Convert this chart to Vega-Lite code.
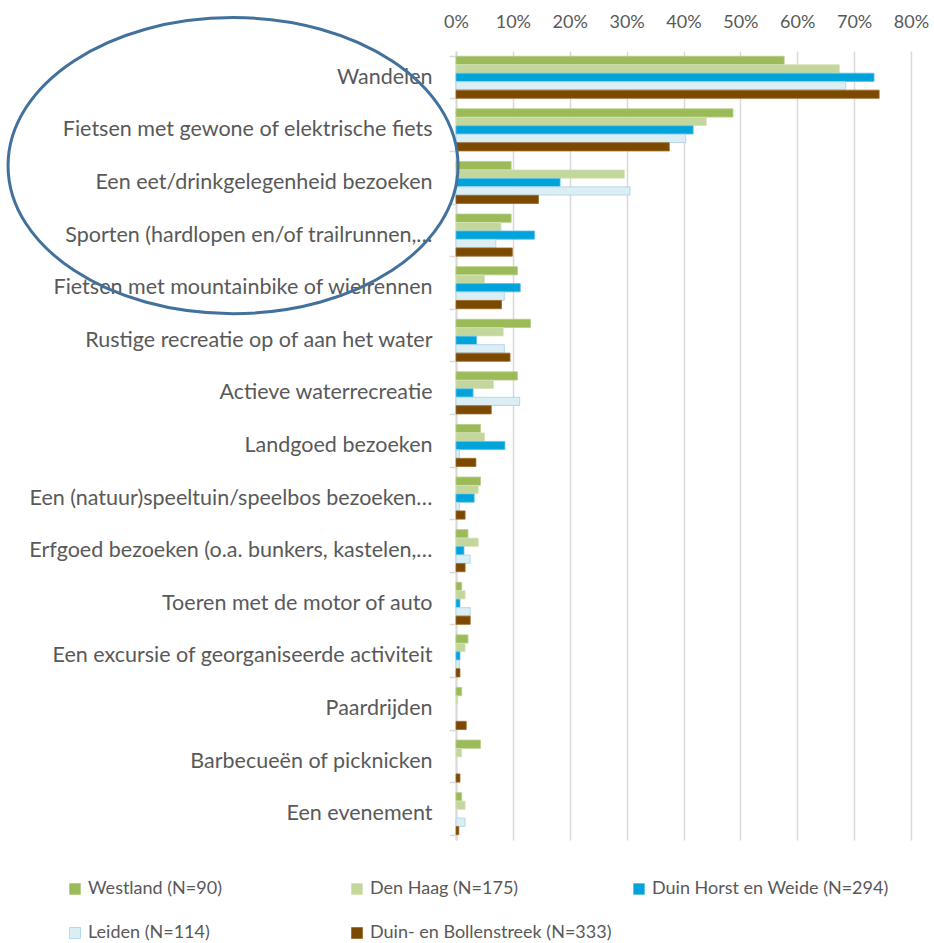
{
  "$schema": "https://vega.github.io/schema/vega-lite/v6.json",
  "width": 455,
  "height": 789,
  "autosize": {"type": "none"},
  "padding": {"left": 456, "top": 51, "right": 23, "bottom": 103},
  "background": "white",
  "config": {
    "font": "Lato",
    "view": {"stroke": null},
    "axis": {"labelColor": "#595959", "labelFont": "Lato", "labelFontWeight": 400}
  },
  "datasets": {
    "bars": [
      {"cat": "Wandelen", "reg": "Westland (N=90)", "v": 0.577},
      {"cat": "Wandelen", "reg": "Den Haag (N=175)", "v": 0.674},
      {"cat": "Wandelen", "reg": "Duin Horst en Weide (N=294)", "v": 0.735},
      {"cat": "Wandelen", "reg": "Leiden (N=114)", "v": 0.685},
      {"cat": "Wandelen", "reg": "Duin- en Bollenstreek (N=333)", "v": 0.744},
      {"cat": "Fietsen met gewone of elektrische fiets", "reg": "Westland (N=90)", "v": 0.487},
      {"cat": "Fietsen met gewone of elektrische fiets", "reg": "Den Haag (N=175)", "v": 0.44},
      {"cat": "Fietsen met gewone of elektrische fiets", "reg": "Duin Horst en Weide (N=294)", "v": 0.417},
      {"cat": "Fietsen met gewone of elektrische fiets", "reg": "Leiden (N=114)", "v": 0.404},
      {"cat": "Fietsen met gewone of elektrische fiets", "reg": "Duin- en Bollenstreek (N=333)", "v": 0.375},
      {"cat": "Een eet/drinkgelegenheid bezoeken", "reg": "Westland (N=90)", "v": 0.097},
      {"cat": "Een eet/drinkgelegenheid bezoeken", "reg": "Den Haag (N=175)", "v": 0.296},
      {"cat": "Een eet/drinkgelegenheid bezoeken", "reg": "Duin Horst en Weide (N=294)", "v": 0.183},
      {"cat": "Een eet/drinkgelegenheid bezoeken", "reg": "Leiden (N=114)", "v": 0.306},
      {"cat": "Een eet/drinkgelegenheid bezoeken", "reg": "Duin- en Bollenstreek (N=333)", "v": 0.145},
      {"cat": "Sporten (hardlopen en/of trailrunnen,…", "reg": "Westland (N=90)", "v": 0.097},
      {"cat": "Sporten (hardlopen en/of trailrunnen,…", "reg": "Den Haag (N=175)", "v": 0.079},
      {"cat": "Sporten (hardlopen en/of trailrunnen,…", "reg": "Duin Horst en Weide (N=294)", "v": 0.138},
      {"cat": "Sporten (hardlopen en/of trailrunnen,…", "reg": "Leiden (N=114)", "v": 0.07},
      {"cat": "Sporten (hardlopen en/of trailrunnen,…", "reg": "Duin- en Bollenstreek (N=333)", "v": 0.099},
      {"cat": "Fietsen met mountainbike of wielrennen", "reg": "Westland (N=90)", "v": 0.108},
      {"cat": "Fietsen met mountainbike of wielrennen", "reg": "Den Haag (N=175)", "v": 0.05},
      {"cat": "Fietsen met mountainbike of wielrennen", "reg": "Duin Horst en Weide (N=294)", "v": 0.113},
      {"cat": "Fietsen met mountainbike of wielrennen", "reg": "Leiden (N=114)", "v": 0.085},
      {"cat": "Fietsen met mountainbike of wielrennen", "reg": "Duin- en Bollenstreek (N=333)", "v": 0.08},
      {"cat": "Rustige recreatie op of aan het water", "reg": "Westland (N=90)", "v": 0.131},
      {"cat": "Rustige recreatie op of aan het water", "reg": "Den Haag (N=175)", "v": 0.083},
      {"cat": "Rustige recreatie op of aan het water", "reg": "Duin Horst en Weide (N=294)", "v": 0.036},
      {"cat": "Rustige recreatie op of aan het water", "reg": "Leiden (N=114)", "v": 0.085},
      {"cat": "Rustige recreatie op of aan het water", "reg": "Duin- en Bollenstreek (N=333)", "v": 0.095},
      {"cat": "Actieve waterrecreatie", "reg": "Westland (N=90)", "v": 0.108},
      {"cat": "Actieve waterrecreatie", "reg": "Den Haag (N=175)", "v": 0.066},
      {"cat": "Actieve waterrecreatie", "reg": "Duin Horst en Weide (N=294)", "v": 0.03},
      {"cat": "Actieve waterrecreatie", "reg": "Leiden (N=114)", "v": 0.112},
      {"cat": "Actieve waterrecreatie", "reg": "Duin- en Bollenstreek (N=333)", "v": 0.062},
      {"cat": "Landgoed bezoeken", "reg": "Westland (N=90)", "v": 0.043},
      {"cat": "Landgoed bezoeken", "reg": "Den Haag (N=175)", "v": 0.05},
      {"cat": "Landgoed bezoeken", "reg": "Duin Horst en Weide (N=294)", "v": 0.086},
      {"cat": "Landgoed bezoeken", "reg": "Leiden (N=114)", "v": 0.006},
      {"cat": "Landgoed bezoeken", "reg": "Duin- en Bollenstreek (N=333)", "v": 0.035},
      {"cat": "Een (natuur)speeltuin/speelbos bezoeken…", "reg": "Westland (N=90)", "v": 0.043},
      {"cat": "Een (natuur)speeltuin/speelbos bezoeken…", "reg": "Den Haag (N=175)", "v": 0.039},
      {"cat": "Een (natuur)speeltuin/speelbos bezoeken…", "reg": "Duin Horst en Weide (N=294)", "v": 0.032},
      {"cat": "Een (natuur)speeltuin/speelbos bezoeken…", "reg": "Leiden (N=114)", "v": 0.006},
      {"cat": "Een (natuur)speeltuin/speelbos bezoeken…", "reg": "Duin- en Bollenstreek (N=333)", "v": 0.016},
      {"cat": "Erfgoed bezoeken (o.a. bunkers, kastelen,…", "reg": "Westland (N=90)", "v": 0.021},
      {"cat": "Erfgoed bezoeken (o.a. bunkers, kastelen,…", "reg": "Den Haag (N=175)", "v": 0.039},
      {"cat": "Erfgoed bezoeken (o.a. bunkers, kastelen,…", "reg": "Duin Horst en Weide (N=294)", "v": 0.014},
      {"cat": "Erfgoed bezoeken (o.a. bunkers, kastelen,…", "reg": "Leiden (N=114)", "v": 0.025},
      {"cat": "Erfgoed bezoeken (o.a. bunkers, kastelen,…", "reg": "Duin- en Bollenstreek (N=333)", "v": 0.016},
      {"cat": "Toeren met de motor of auto", "reg": "Westland (N=90)", "v": 0.01},
      {"cat": "Toeren met de motor of auto", "reg": "Den Haag (N=175)", "v": 0.016},
      {"cat": "Toeren met de motor of auto", "reg": "Duin Horst en Weide (N=294)", "v": 0.007},
      {"cat": "Toeren met de motor of auto", "reg": "Leiden (N=114)", "v": 0.025},
      {"cat": "Toeren met de motor of auto", "reg": "Duin- en Bollenstreek (N=333)", "v": 0.025},
      {"cat": "Een excursie of georganiseerde activiteit", "reg": "Westland (N=90)", "v": 0.021},
      {"cat": "Een excursie of georganiseerde activiteit", "reg": "Den Haag (N=175)", "v": 0.016},
      {"cat": "Een excursie of georganiseerde activiteit", "reg": "Duin Horst en Weide (N=294)", "v": 0.007},
      {"cat": "Een excursie of georganiseerde activiteit", "reg": "Leiden (N=114)", "v": 0.006},
      {"cat": "Een excursie of georganiseerde activiteit", "reg": "Duin- en Bollenstreek (N=333)", "v": 0.007},
      {"cat": "Paardrijden", "reg": "Westland (N=90)", "v": 0.01},
      {"cat": "Paardrijden", "reg": "Den Haag (N=175)", "v": 0.003},
      {"cat": "Paardrijden", "reg": "Duin Horst en Weide (N=294)", "v": 0},
      {"cat": "Paardrijden", "reg": "Leiden (N=114)", "v": 0},
      {"cat": "Paardrijden", "reg": "Duin- en Bollenstreek (N=333)", "v": 0.018},
      {"cat": "Barbecueën of picknicken", "reg": "Westland (N=90)", "v": 0.043},
      {"cat": "Barbecueën of picknicken", "reg": "Den Haag (N=175)", "v": 0.01},
      {"cat": "Barbecueën of picknicken", "reg": "Duin Horst en Weide (N=294)", "v": 0},
      {"cat": "Barbecueën of picknicken", "reg": "Leiden (N=114)", "v": 0},
      {"cat": "Barbecueën of picknicken", "reg": "Duin- en Bollenstreek (N=333)", "v": 0.007},
      {"cat": "Een evenement", "reg": "Westland (N=90)", "v": 0.01},
      {"cat": "Een evenement", "reg": "Den Haag (N=175)", "v": 0.016},
      {"cat": "Een evenement", "reg": "Duin Horst en Weide (N=294)", "v": 0},
      {"cat": "Een evenement", "reg": "Leiden (N=114)", "v": 0.016},
      {"cat": "Een evenement", "reg": "Duin- en Bollenstreek (N=333)", "v": 0.005}
    ],
    "note": [
      {"cat": "Een eet/drinkgelegenheid bezoeken", "v": -0.392}
    ]
  },
  "encoding": {
    "y": {
      "field": "cat",
      "type": "nominal",
      "sort": ["Wandelen", "Fietsen met gewone of elektrische fiets", "Een eet/drinkgelegenheid bezoeken", "Sporten (hardlopen en/of trailrunnen,…", "Fietsen met mountainbike of wielrennen", "Rustige recreatie op of aan het water", "Actieve waterrecreatie", "Landgoed bezoeken", "Een (natuur)speeltuin/speelbos bezoeken…", "Erfgoed bezoeken (o.a. bunkers, kastelen,…", "Toeren met de motor of auto", "Een excursie of georganiseerde activiteit", "Paardrijden", "Barbecueën of picknicken", "Een evenement"],
      "scale": {"paddingInner": 0.2, "paddingOuter": 0.1},
      "axis": {
        "title": null,
        "tickBand": "extent",
        "tickSize": 7,
        "tickColor": "#d9d9d9",
        "tickWidth": 1.5,
        "domainColor": "#d9d9d9",
        "domainWidth": 2,
        "labelPadding": 17,
        "labelFontSize": 21.5,
        "labelLimit": 460,
        "grid": false
      }
    },
    "x": {
      "field": "v",
      "type": "quantitative",
      "scale": {"domain": [0, 0.8], "nice": false, "zero": true},
      "axis": {
        "orient": "top",
        "title": null,
        "format": ".0%",
        "values": [0, 0.1, 0.2, 0.3, 0.4, 0.5, 0.6, 0.7, 0.8],
        "domain": false,
        "ticks": false,
        "labelFlush": false,
        "labelPadding": 20,
        "labelFontSize": 18,
        "grid": true,
        "gridColor": "#d9d9d9",
        "gridWidth": 1.5
      }
    }
  },
  "layer": [
    {
      "data": {"name": "bars"},
      "transform": [{"filter": "datum.v > 0"}],
      "mark": {"type": "bar", "strokeWidth": 0.8},
      "encoding": {
        "yOffset": {
          "field": "reg",
          "type": "nominal",
          "sort": ["Westland (N=90)", "Den Haag (N=175)", "Duin Horst en Weide (N=294)", "Leiden (N=114)", "Duin- en Bollenstreek (N=333)"],
          "scale": {"paddingInner": 0.03, "domain": ["Westland (N=90)", "Den Haag (N=175)", "Duin Horst en Weide (N=294)", "Leiden (N=114)", "Duin- en Bollenstreek (N=333)"]}
        },
        "fill": {
          "field": "reg",
          "type": "nominal",
          "scale": {
            "domain": ["Westland (N=90)", "Den Haag (N=175)", "Duin Horst en Weide (N=294)", "Leiden (N=114)", "Duin- en Bollenstreek (N=333)"],
            "range": ["#9BBB59", "#C3D69B", "#00A3DA", "#DAEEF3", "#7B4A00"]
          },
          "legend": {
            "title": null,
            "orient": "none",
            "legendX": -390,
            "legendY": 829,
            "direction": "horizontal",
            "columns": 3,
            "gridAlign": "all",
            "columnPadding": 18,
            "rowPadding": 26,
            "symbolType": "square",
            "symbolSize": 121,
            "symbolStrokeWidth": 0.8,
            "labelFontSize": 18,
            "labelFont": "Lato",
            "labelFontWeight": 400,
            "labelColor": "#595959",
            "labelOffset": 4,
            "labelLimit": 400
          }
        },
        "stroke": {
          "field": "reg",
          "type": "nominal",
          "scale": {
            "domain": ["Westland (N=90)", "Den Haag (N=175)", "Duin Horst en Weide (N=294)", "Leiden (N=114)", "Duin- en Bollenstreek (N=333)"],
            "range": ["#B5CC85", "#D4E2B5", "#5BC0E6", "#A9CFEA", "#9A6A2A"]
          },
          "legend": null
        }
      }
    },
    {
      "data": {"name": "note"},
      "mark": {
        "type": "point",
        "shape": "M -1 -0.075 A 1 0.658 0 1 0 1 -0.075 A 1 0.658 0 1 0 -1 -0.075 Z",
        "size": 202500,
        "filled": false,
        "stroke": "#41719C",
        "strokeWidth": 3,
        "opacity": 1
      },
      "encoding": {}
    }
  ]
}
